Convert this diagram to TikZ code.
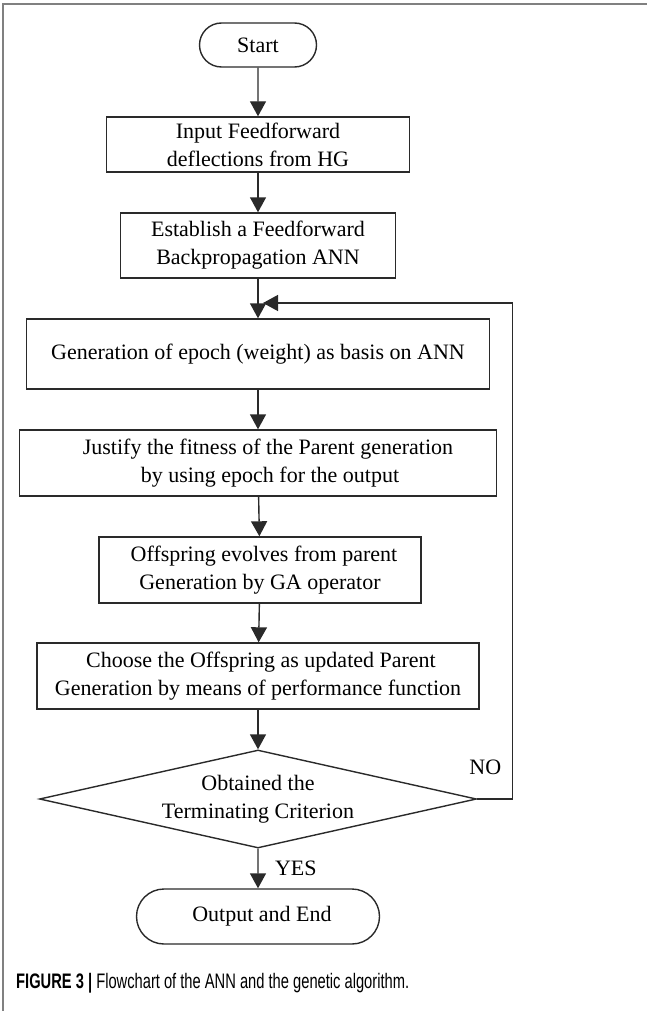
\documentclass[tikz,border=0pt]{standalone}
\usepackage{fontspec}
\setmainfont{Liberation Serif}
\newfontfamily\capfont[FakeStretch=0.7]{Liberation Sans}
\usepackage{xcolor}
\usepackage{tikz}
\usetikzlibrary{arrows.meta, shapes.geometric, shapes.misc, positioning}

\definecolor{framegray}{HTML}{808080}
\definecolor{linegray}{HTML}{2A2A2A}

\tikzset{
    chartbox/.style={draw=linegray, line width=1.4pt, rectangle, align=center,
        inner sep=0pt, text=black, font=\fontsize{22}{28}\selectfont},
    termbox/.style={chartbox, rounded rectangle},
    decbox/.style={chartbox, diamond, aspect=4.46},
    flow/.style={draw=linegray, line width=1.4pt,
        -{Triangle[width=16pt,length=15pt]}}
}

\begin{document}
\begin{tikzpicture}[x=1pt, y=-1pt]
    \useasboundingbox (0,0) rectangle (647,1011);
    % Rahmen
    \draw[framegray, line width=1.5pt] (3,1011) -- (3,4) -- (647,4);

    % Knoten
    \node[termbox, minimum width=117pt, minimum height=44pt] (start) at (258,45) {Start};
    \node[chartbox, minimum width=303pt, minimum height=55pt] (input) at (258,144.5)
        {Input Feedforward\\ deflections from HG};
    \node[chartbox, minimum width=275pt, minimum height=65pt] (ann) at (258,245.5)
        {Establish a Feedforward\\Backpropagation ANN};
    \node[chartbox, minimum width=463pt, minimum height=70pt] (epoch) at (258,354)
        {Generation of epoch (weight) as basis on ANN};
    \node[chartbox, minimum width=477pt, minimum height=66pt] (fitness) at (258,463)
        {\hspace*{20pt}Justify the fitness of the Parent generation\\\hspace*{24pt}by using epoch for the output};
    \node[chartbox, minimum width=322pt, minimum height=66pt] (offspring) at (260,570)
        {\hspace*{8pt}Offspring evolves from parent\\Generation by GA operator};
    \node[chartbox, minimum width=442pt, minimum height=66pt] (choose) at (258,676)
        {\hspace*{6pt}Choose the Offspring as updated Parent\\Generation by means of performance function};
    \node[decbox, minimum width=437pt, minimum height=98pt] (crit) at (258,799)
        {Obtained the\\Terminating Criterion};
    \node[termbox, minimum width=243pt, minimum height=55pt] (stop) at (258,916.5)
        {\hspace*{8pt}Output and End};

    \coordinate (merge) at (263,303);

    % Verbindungen
    \draw[flow] (start) -- (input);
    \draw[flow] (input) -- (ann);
    \draw[flow] (ann) -- (epoch);
    \draw[flow] (epoch) -- (fitness);
    \draw[flow] (fitness) -- (offspring);
    \draw[flow] (offspring) -- (choose);
    \draw[flow] (choose) -- (crit);
    \draw[flow] (crit) -- node[right=13pt, font=\fontsize{22}{26}\selectfont] {YES} (stop);
    \draw[flow] (crit.east) -- ++(35,0)
        node[above left=20pt and 7pt, font=\fontsize{22}{26}\selectfont] {NO} |- (merge);

    % Bildunterschrift
    \node[anchor=west, inner sep=0pt, font=\capfont\fontsize{21}{24}\selectfont] (caption) at (16,983)
        {\textbf{FIGURE 3 |} Flowchart of the ANN and the genetic algorithm.};
\end{tikzpicture}
\end{document}
